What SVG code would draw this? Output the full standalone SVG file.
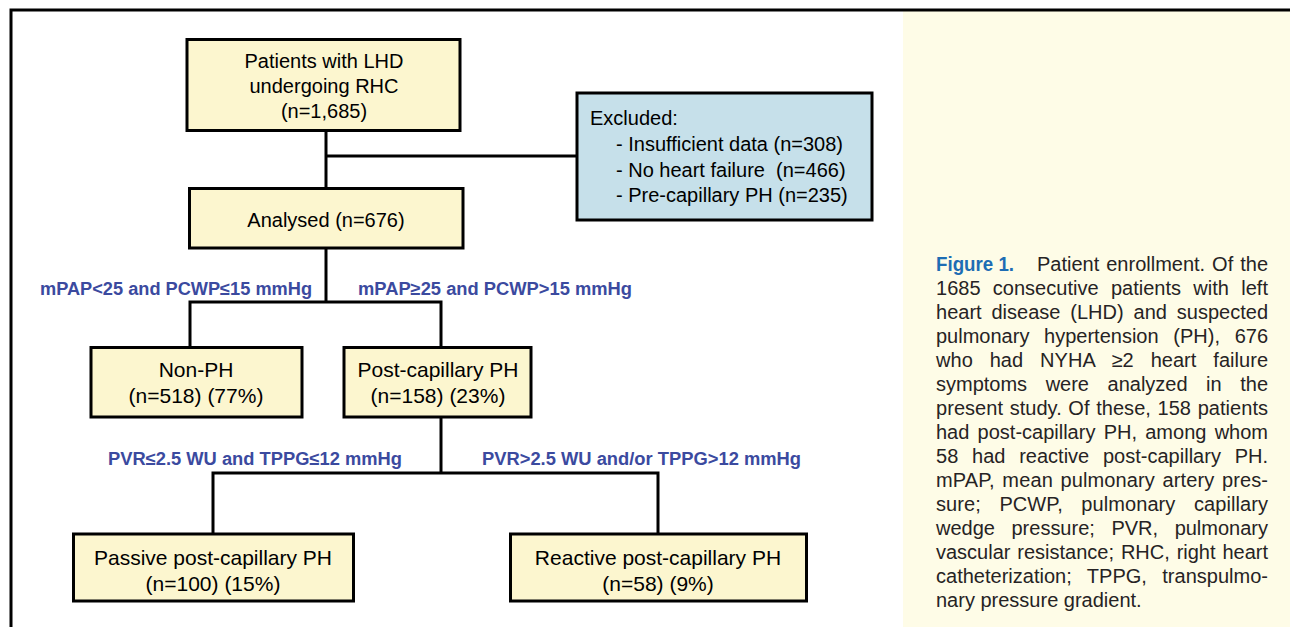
<svg xmlns="http://www.w3.org/2000/svg" width="1290" height="627" viewBox="0 0 1290 627">
<style>
.box{fill:#fcf6cf;stroke:#000;stroke-width:3}
.exc{fill:#c6e0ea;stroke:#000;stroke-width:3}
.t{font-family:"Liberation Sans",Arial,sans-serif;font-size:20px;fill:#000;text-anchor:middle}
.t2{font-family:"Liberation Sans",Arial,sans-serif;font-size:21px;fill:#000;text-anchor:middle}
.tl{font-family:"Liberation Sans",Arial,sans-serif;font-size:20px;fill:#000}
.lab{font-family:"Liberation Sans",Arial,sans-serif;font-size:18px;font-weight:bold;fill:#3b4a9f}
.cap{font-family:"Liberation Sans",Arial,sans-serif;font-size:20px;fill:#262324}
.fig{font-family:"Liberation Sans",Arial,sans-serif;font-size:20px;font-weight:bold;fill:#1d6db4}
.ln{fill:none;stroke:#000;stroke-width:3}
</style>
<rect x="0" y="0" width="1290" height="627" fill="#fff"/>
<rect x="903" y="11" width="387" height="616" fill="#fefce7"/>
<g id="frame">
<path class="ln" d="M11 627 V10 H1290"/>
</g>
<g id="connectors">
<path class="ln" d="M326 130 V189"/>
<path class="ln" d="M326 156 H577"/>
<path class="ln" d="M326 248 V302"/>
<path class="ln" d="M190 348 V302 H441 V348"/>
<path class="ln" d="M441 417 V473"/>
<path class="ln" d="M213 534 V473 H658 V534"/>
</g>
<g id="n-start">
<rect class="box" x="187" y="39.5" width="273" height="91"/>
<text class="t" x="324" y="68">Patients with LHD</text>
<text class="t" x="324" y="93">undergoing RHC</text>
<text class="t" x="324" y="118">(n=1,685)</text>
</g>
<g id="n-excluded">
<rect class="exc" x="577" y="93" width="295" height="127"/>
<text class="tl" x="590" y="125">Excluded:</text>
<text class="tl" x="616" y="151">- Insufficient data (n=308)</text>
<text class="tl" x="616" y="177" xml:space="preserve">- No heart failure  (n=466)</text>
<text class="tl" x="616" y="202">- Pre-capillary PH (n=235)</text>
</g>
<g id="n-analysed">
<rect class="box" x="189.5" y="188.5" width="273.5" height="59.5"/>
<text class="t" x="326" y="227">Analysed (n=676)</text>
</g>
<g id="labels">
<text class="lab" x="40" y="295" textLength="272" lengthAdjust="spacingAndGlyphs">mPAP&lt;25 and PCWP≤15 mmHg</text>
<text class="lab" x="358" y="295" textLength="274" lengthAdjust="spacingAndGlyphs">mPAP≥25 and PCWP&gt;15 mmHg</text>
<text class="lab" x="108" y="465" textLength="294" lengthAdjust="spacingAndGlyphs">PVR≤2.5 WU and TPPG≤12 mmHg</text>
<text class="lab" x="482" y="465" textLength="319" lengthAdjust="spacingAndGlyphs">PVR&gt;2.5 WU and/or TPPG&gt;12 mmHg</text>
</g>
<g id="n-nonph">
<rect class="box" x="91" y="347.5" width="211" height="69.5"/>
<text class="t2" x="196" y="377">Non-PH</text>
<text class="t2" x="196" y="403">(n=518) (77%)</text>
</g>
<g id="n-postcap">
<rect class="box" x="344" y="347.5" width="187" height="69.5"/>
<text class="t2" x="438" y="377">Post-capillary PH</text>
<text class="t2" x="438" y="403">(n=158) (23%)</text>
</g>
<g id="n-passive">
<rect class="box" x="73.5" y="534" width="280" height="67"/>
<text class="t2" x="213" y="565">Passive post-capillary PH</text>
<text class="t2" x="213" y="591">(n=100) (15%)</text>
</g>
<g id="n-reactive">
<rect class="box" x="510.5" y="534" width="296" height="67"/>
<text class="t2" x="658" y="565">Reactive post-capillary PH</text>
<text class="t2" x="658" y="591">(n=58) (9%)</text>
</g>
<g id="caption">
<text class="fig" x="936" y="271" textLength="78" lengthAdjust="spacingAndGlyphs">Figure 1.</text>
<text class="cap" x="1037" y="271" word-spacing="1.4" textLength="231" lengthAdjust="spacing">Patient enrollment. Of the</text>
<text class="cap" x="936" y="295" word-spacing="6.8" textLength="332" lengthAdjust="spacing">1685 consecutive patients with left</text>
<text class="cap" x="936" y="319" word-spacing="4.3" textLength="332" lengthAdjust="spacing">heart disease (LHD) and suspected</text>
<text class="cap" x="936" y="343" word-spacing="9.1" textLength="332" lengthAdjust="spacing">pulmonary hypertension (PH), 676</text>
<text class="cap" x="936" y="367" word-spacing="11.3" textLength="332" lengthAdjust="spacing">who had NYHA ≥2 heart failure</text>
<text class="cap" x="936" y="391" word-spacing="13" textLength="332" lengthAdjust="spacing">symptoms were analyzed in the</text>
<text class="cap" x="936" y="415" word-spacing="1" textLength="332" lengthAdjust="spacing">present study. Of these, 158 patients</text>
<text class="cap" x="936" y="439" word-spacing="2.7" textLength="332" lengthAdjust="spacing">had post-capillary PH, among whom</text>
<text class="cap" x="936" y="463" word-spacing="8.2" textLength="332" lengthAdjust="spacing">58 had reactive post-capillary PH.</text>
<text class="cap" x="936" y="487" word-spacing="1.9" textLength="332" lengthAdjust="spacing">mPAP, mean pulmonary artery pres-</text>
<text class="cap" x="936" y="511" word-spacing="12.9" textLength="332" lengthAdjust="spacing">sure; PCWP, pulmonary capillary</text>
<text class="cap" x="936" y="535" word-spacing="11" textLength="332" lengthAdjust="spacing">wedge pressure; PVR, pulmonary</text>
<text class="cap" x="936" y="559" word-spacing="1.3" textLength="332" lengthAdjust="spacing">vascular resistance; RHC, right heart</text>
<text class="cap" x="936" y="583" word-spacing="9.8" textLength="332" lengthAdjust="spacing">catheterization; TPPG, transpulmo-</text>
<text class="cap" x="936" y="607">nary pressure gradient.</text>
</g>
</svg>
